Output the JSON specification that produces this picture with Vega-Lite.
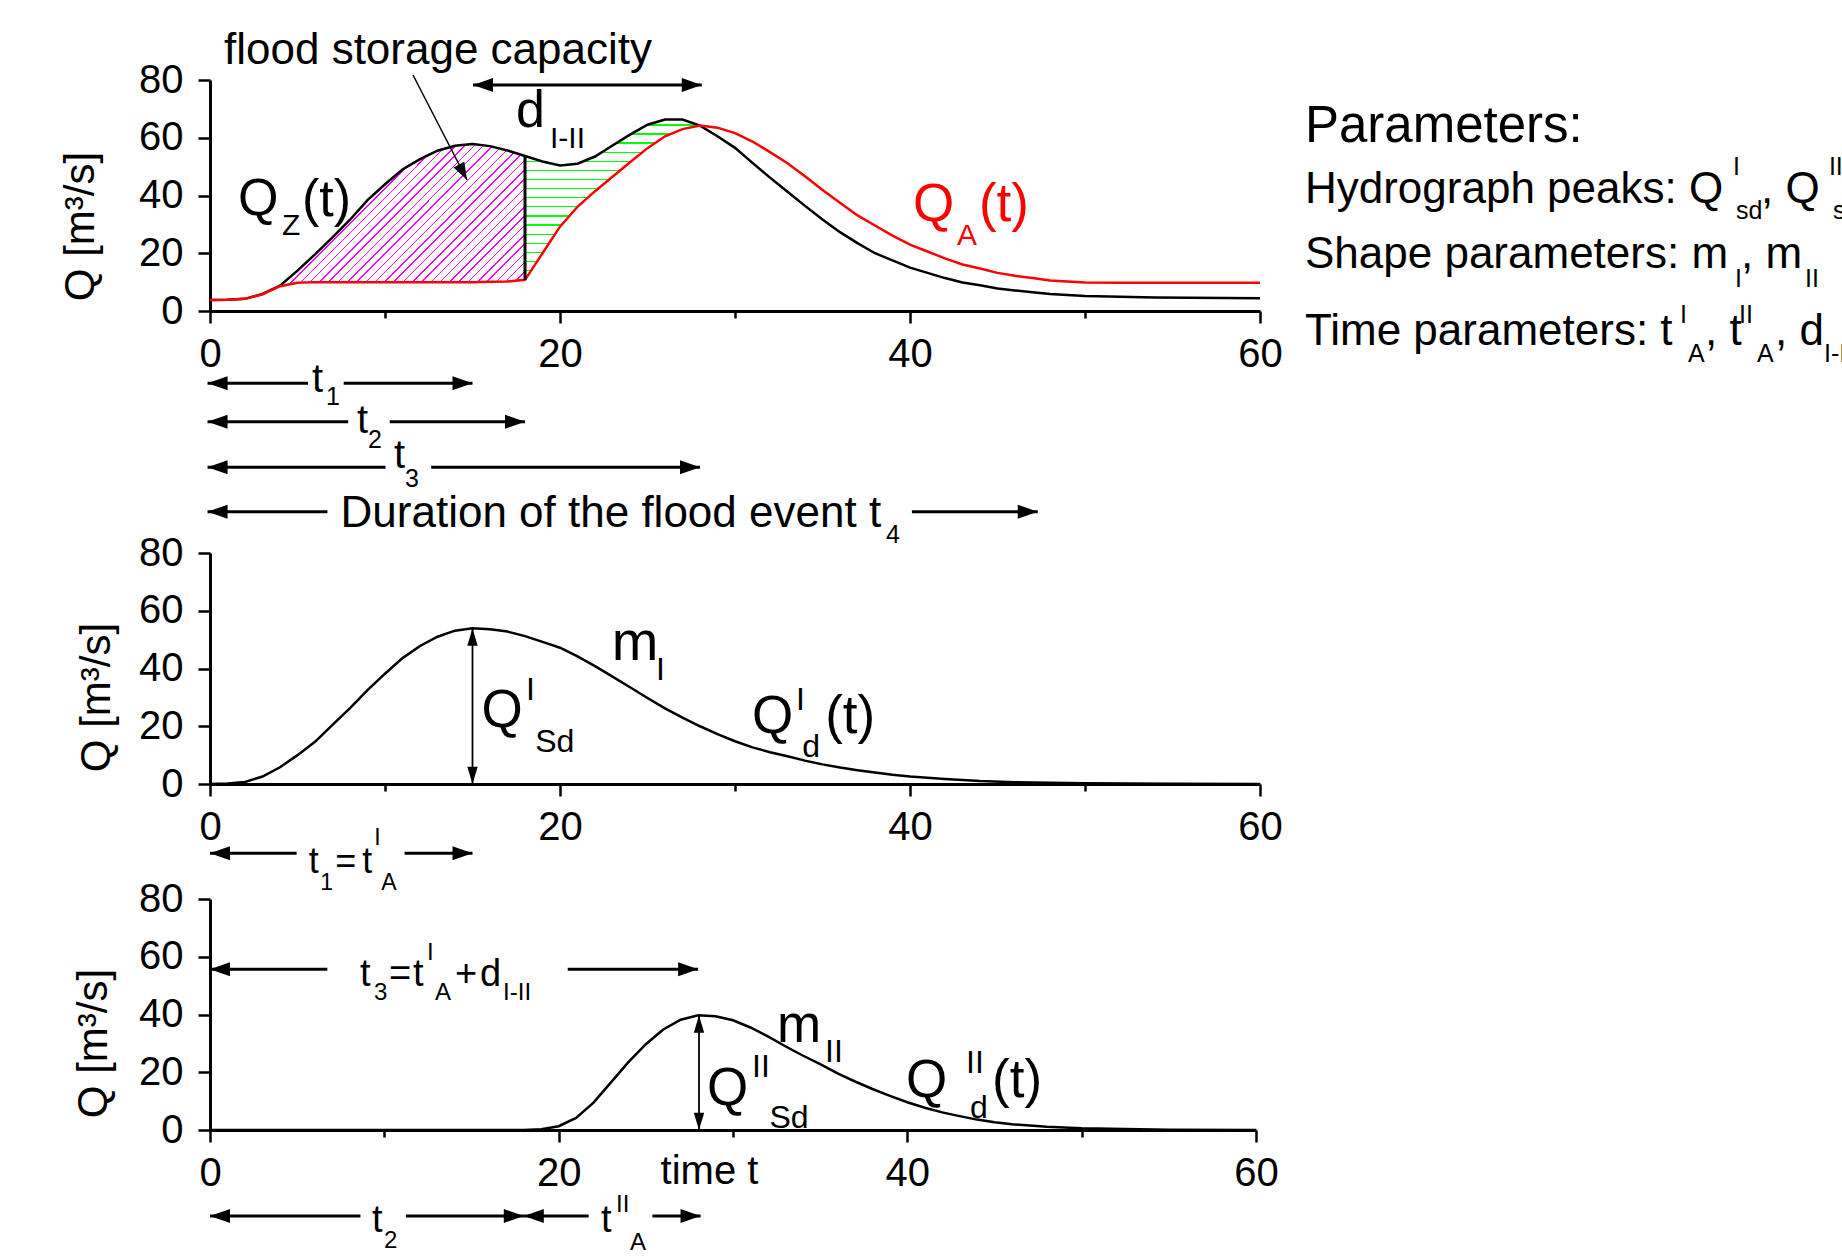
{
"$schema": "https://vega.github.io/schema/vega-lite/v6.json",
"autosize": {"type": "none"},
"padding": {"left": 210, "top": 80, "right": 1632, "bottom": 1177},
"background": "white",
"config": {
  "view": {"stroke": null},
  "font": "Liberation Sans",
  "axis": {"domainColor": "black", "domainWidth": 3, "tickColor": "black", "tickWidth": 2.5, "labelColor": "black", "labelFont": "Liberation Sans", "labelFontSize": 40, "titleFont": "Liberation Sans", "titleFontSize": 42, "titleFontWeight": "normal", "titleColor": "black", "grid": false},
  "text": {"color": "black", "font": "Liberation Sans", "align": "left", "baseline": "alphabetic"},
  "point": {"filled": true, "opacity": 1, "color": "black"}
},
"datasets": {
  "top": [
    {"t":0,"qz":3.8,"qa":3.8},{"t":1,"qz":3.9,"qa":3.9},{"t":2,"qz":4.2,"qa":4.2},{"t":3,"qz":5.9,"qa":5.8},{"t":4,"qz":8.8,"qa":8.6},
    {"t":5,"qz":14,"qa":9.8},{"t":6,"qz":19.6,"qa":10},{"t":7,"qz":25.5,"qa":10},{"t":8,"qz":31.6,"qa":10},{"t":9,"qz":38.4,"qa":10},
    {"t":10,"qz":43.9,"qa":10},{"t":11,"qz":49,"qa":10},{"t":12,"qz":52.6,"qa":10},{"t":13,"qz":55.5,"qa":10},{"t":14,"qz":57.2,"qa":10},
    {"t":15,"qz":57.8,"qa":10},{"t":16,"qz":57.1,"qa":10.1},{"t":17,"qz":55.6,"qa":10.2},{"t":18,"qz":53.7,"qa":10.8},{"t":19,"qz":51.8,"qa":20},
    {"t":20,"qz":50.4,"qa":29.2},{"t":21,"qz":51,"qa":36.1},{"t":22,"qz":53.5,"qa":41.5},{"t":23,"qz":57.3,"qa":46.5},{"t":24,"qz":61.1,"qa":51.5},
    {"t":25,"qz":64.5,"qa":56.4},{"t":26,"qz":66.3,"qa":60.5},{"t":27,"qz":66.3,"qa":63},{"t":28,"qz":64.2,"qa":64.2},{"t":29,"qz":60.5,"qa":63.5},
    {"t":30,"qz":56.5,"qa":61.6},{"t":31,"qz":51.3,"qa":58.7},{"t":32,"qz":46.2,"qa":55},{"t":33,"qz":41.3,"qa":51.2},{"t":34,"qz":36.4,"qa":46.7},
    {"t":35,"qz":31.7,"qa":41.9},{"t":36,"qz":27.3,"qa":37.5},{"t":37,"qz":23.5,"qa":33.1},{"t":38,"qz":20,"qa":29.6},{"t":39,"qz":17.5,"qa":26.1},
    {"t":40,"qz":15,"qa":23},{"t":41,"qz":13.2,"qa":20.6},{"t":42,"qz":11.4,"qa":18.2},{"t":43,"qz":9.9,"qa":16.1},{"t":44,"qz":8.9,"qa":14.7},
    {"t":45,"qz":7.8,"qa":13.2},{"t":46,"qz":7.1,"qa":12.2},{"t":47,"qz":6.5,"qa":11.4},{"t":48,"qz":5.9,"qa":10.6},{"t":50,"qz":5.2,"qa":9.9},
    {"t":52,"qz":4.9,"qa":9.8},{"t":54,"qz":4.7,"qa":9.8},{"t":56,"qz":4.6,"qa":9.8},{"t":58,"qz":4.5,"qa":9.8},{"t":60,"qz":4.4,"qa":9.8}
  ],
  "topLinesThick": [
    {"t":15.03,"t2":28.1,"q":78.27,"q2":78.27},
    {"t":-0.14,"t2":5.6,"q":-25.04,"q2":-25.04},{"t":7.64,"t2":15,"q":-25.04,"q2":-25.04},
    {"t":-0.14,"t2":7.9,"q":-38.34,"q2":-38.34},{"t":10.27,"t2":18,"q":-38.34,"q2":-38.34},
    {"t":-0.14,"t2":10.03,"q":-54.13,"q2":-54.13},{"t":12.64,"t2":28,"q":-54.13,"q2":-54.13},
    {"t":-0.14,"t2":6.71,"q":-69.5,"q2":-69.5},{"t":40.11,"t2":47.3,"q":-69.5,"q2":-69.5},
    {"t":18,"t2":18,"q":10.8,"q2":53.7}
  ],
  "topLinesThin": [{"t":11.6,"t2":14.69,"q":81.73,"q2":45.37}],
  "topHeads": [
    {"t":15.03,"q":78.27,"dir":"left"},{"t":28.1,"q":78.27,"dir":"right"},
    {"t":-0.14,"q":-25.04,"dir":"left"},{"t":15,"q":-25.04,"dir":"right"},
    {"t":-0.14,"q":-38.34,"dir":"left"},{"t":18,"q":-38.34,"dir":"right"},
    {"t":-0.14,"q":-54.13,"dir":"left"},{"t":28,"q":-54.13,"dir":"right"},
    {"t":-0.14,"q":-69.5,"dir":"left"},{"t":47.3,"q":-69.5,"dir":"right"}
  ],
  "topPointer": [{"t":14.69,"q":45.37,"dir":"right"}],
  "topText44": [
    {"t":0.8,"q":85.54,"text":"flood storage capacity"},
    {"t":7.46,"q":-74.7,"text":"Duration of the flood event t"},
    {"t":62.57,"q":37.4,"text":"Hydrograph peaks: Q"},
    {"t":88.63,"q":37.4,"text":", Q"},
    {"t":62.57,"q":14.78,"text":"Shape parameters: m"},
    {"t":87.49,"q":14.78,"text":", m"},
    {"t":62.57,"q":-11.77,"text":"Time parameters: t"},
    {"t":85.43,"q":-11.77,"text":", t"},
    {"t":89.43,"q":-11.77,"text":", d"}
  ],
  "topText49": [{"t":62.57,"q":58.63,"text":"Parameters:"}],
  "topBig": [{"t":1.6,"q":33.25,"text":"Q"},{"t":5.26,"q":32.9,"text":"(t)"},{"t":17.49,"q":63.72,"text":"d"}],
  "topBigRed": [{"t":40.17,"q":31.17,"text":"Q"},{"t":43.94,"q":31.17,"text":"(t)"}],
  "topSub": [{"t":4.11,"q":26.32,"text":"Z"},{"t":19.43,"q":56.45,"text":"I-II"}],
  "topSubRed": [{"t":42.69,"q":22.86,"text":"A"}],
  "topRowT": [{"t":5.83,"q":-28.05,"text":"t"},{"t":8.4,"q":-42.36,"text":"t"},{"t":10.51,"q":-54.5,"text":"t"}],
  "topSmall": [
    {"t":6.63,"q":-32.55,"text":"1"},{"t":9.03,"q":-47.55,"text":"2"},{"t":11.14,"q":-60.85,"text":"3"},{"t":38.63,"q":-80.45,"text":"4"},
    {"t":87.03,"q":47.1,"text":"I"},{"t":87.2,"q":31.75,"text":"sd"},{"t":92.51,"q":47.1,"text":"II"},{"t":92.74,"q":31.75,"text":"sd"},
    {"t":87.14,"q":8.43,"text":"I"},{"t":91.14,"q":8.43,"text":"II"},
    {"t":84.0,"q":-4.27,"text":"I"},{"t":84.46,"q":-17.55,"text":"A"},{"t":87.37,"q":-4.27,"text":"II"},{"t":88.4,"q":-17.55,"text":"A"},{"t":92.23,"q":-17.55,"text":"I-II"}
  ],
  "mid": [
    {"t":0,"q":0},{"t":1,"q":0.2},{"t":2,"q":0.7},{"t":3,"q":2.6},{"t":4,"q":5.8},{"t":5,"q":10},{"t":6,"q":14.6},{"t":7,"q":20.5},{"t":8,"q":26.3},{"t":9,"q":32.5},
    {"t":10,"q":38.2},{"t":11,"q":43.6},{"t":12,"q":47.8},{"t":13,"q":51},{"t":14,"q":53.1},{"t":15,"q":53.9},{"t":16,"q":53.6},{"t":17,"q":52.8},{"t":18,"q":51.2},{"t":19,"q":49.2},
    {"t":20,"q":47.2},{"t":21,"q":44.2},{"t":22,"q":40.8},{"t":23,"q":37.2},{"t":24,"q":33.5},{"t":25,"q":29.8},{"t":26,"q":26.2},{"t":27,"q":23},{"t":28,"q":20},{"t":29,"q":17.3},
    {"t":30,"q":14.8},{"t":31,"q":12.7},{"t":32,"q":11},{"t":33,"q":9.6},{"t":34,"q":8.1},{"t":35,"q":6.8},{"t":36,"q":5.7},{"t":37,"q":4.8},{"t":38,"q":4},{"t":39,"q":3.2},
    {"t":40,"q":2.6},{"t":42,"q":1.7},{"t":44,"q":1},{"t":46,"q":0.6},{"t":48,"q":0.4},{"t":50,"q":0.3},{"t":55,"q":0.1},{"t":60,"q":0}
  ],
  "midLinesThick": [{"t":0,"t2":4.95,"q":-24,"q2":-24},{"t":11.12,"t2":15,"q":-24,"q2":-24}],
  "midLinesThin": [{"t":15,"t2":15,"q":0,"q2":53.9}],
  "midHeadsThick": [{"t":0,"q":-24,"dir":"left"},{"t":15,"q":-24,"dir":"right"}],
  "midHeadsThin": [{"t":15,"q":53.9,"dir":"up"},{"t":15,"q":0,"dir":"down"}],
  "midBig": [{"t":15.51,"q":19.74,"text":"Q"},{"t":30.97,"q":17.55,"text":"Q"},{"t":35.15,"q":17.66,"text":"(t)"}],
  "midM": [{"t":22.96,"q":42.94,"text":"m"}],
  "midSub": [{"t":18.06,"q":29.09,"text":"I"},{"t":18.58,"q":11.08,"text":"Sd"},{"t":25.48,"q":36.02,"text":"I"},{"t":33.49,"q":25.63,"text":"I"},{"t":33.84,"q":9.46,"text":"d"}],
  "midRow": [{"t":5.64,"q":-30.82,"text":"t"},{"t":7.16,"q":-30.82,"text":"="},{"t":8.7,"q":-30.82,"text":"t"}],
  "midRowSub": [{"t":6.3,"q":-36.7,"text":"1"},{"t":9.39,"q":-21.1,"text":"I"},{"t":9.79,"q":-36.7,"text":"A"}],
  "bot": [
    {"t":0,"q":0},{"t":5,"q":0},{"t":10,"q":0},{"t":15,"q":0},{"t":18,"q":0},{"t":19,"q":0.3},{"t":20,"q":1.3},{"t":21,"q":4.2},{"t":22,"q":9.5},{"t":23,"q":16.5},
    {"t":24,"q":23.5},{"t":25,"q":29.7},{"t":26,"q":34.8},{"t":27,"q":38.2},{"t":28,"q":39.7},{"t":29,"q":39.4},{"t":30,"q":38},{"t":31,"q":35.5},{"t":32,"q":32.4},{"t":33,"q":29},
    {"t":34,"q":25.8},{"t":35,"q":22.8},{"t":36,"q":19.6},{"t":37,"q":16.8},{"t":38,"q":14.2},{"t":39,"q":11.8},{"t":40,"q":9.6},{"t":41,"q":7.7},{"t":42,"q":6.1},{"t":43,"q":4.8},
    {"t":44,"q":3.6},{"t":45,"q":2.7},{"t":46,"q":2},{"t":48,"q":1.1},{"t":50,"q":0.6},{"t":55,"q":0.1},{"t":60,"q":0}
  ],
  "botLinesThick": [
    {"t":0,"t2":6.73,"q":55.7,"q2":55.7},{"t":20.52,"t2":28,"q":55.7,"q2":55.7},
    {"t":0,"t2":8.63,"q":-29.78,"q2":-29.78},{"t":11.24,"t2":18,"q":-29.78,"q2":-29.78},
    {"t":18,"t2":21.72,"q":-29.78,"q2":-29.78},{"t":25.38,"t2":28.14,"q":-29.78,"q2":-29.78}
  ],
  "botLinesThin": [{"t":28.05,"t2":28.05,"q":0,"q2":39.7}],
  "botHeadsThick": [
    {"t":0,"q":55.7,"dir":"left"},{"t":28,"q":55.7,"dir":"right"},
    {"t":0,"q":-29.78,"dir":"left"},{"t":18,"q":-29.78,"dir":"right"},
    {"t":18,"q":-29.78,"dir":"left"},{"t":28.14,"q":-29.78,"dir":"right"}
  ],
  "botHeadsThin": [{"t":28.05,"q":39.7,"dir":"up"},{"t":28.05,"q":0,"dir":"down"}],
  "botBig": [{"t":28.51,"q":8.66,"text":"Q"},{"t":32.52,"q":30.48,"text":"m"},{"t":39.93,"q":11.55,"text":"Q"},{"t":44.86,"q":11.43,"text":"(t)"}],
  "botSub": [{"t":31.09,"q":18.35,"text":"II"},{"t":32.09,"q":0.69,"text":"Sd"},{"t":35.28,"q":23.55,"text":"II"},{"t":43.37,"q":19.62,"text":"II"},{"t":43.6,"q":4.04,"text":"d"}],
  "botRow": [{"t":8.6,"q":49.87,"text":"t"},{"t":10.27,"q":49.87,"text":"="},{"t":11.64,"q":49.87,"text":"t"},{"t":14.05,"q":49.87,"text":"+"},{"t":15.49,"q":49.87,"text":"d"},{"t":9.29,"q":-35.33,"text":"t"},{"t":22.43,"q":-35.33,"text":"t"}],
  "botRowSub": [{"t":9.41,"q":45.02,"text":"3"},{"t":12.45,"q":58.87,"text":"I"},{"t":12.91,"q":45.02,"text":"A"},{"t":16.81,"q":45.02,"text":"I-II"},{"t":9.98,"q":-40.87,"text":"2"},{"t":23.29,"q":-28.28,"text":"II"},{"t":24.09,"q":-41.56,"text":"A"}]
},
"resolve": {"scale": {"x": "independent", "y": "independent"}},
"bounds": "flush",
"spacing": 115,
"vconcat": [
  {
    "width": 1050, "height": 231,
    "layer": [
      {"data": {"name": "top"}, "transform": [{"filter": "datum.t >= 4 && datum.t <= 18"}],
       "mark": {"type": "area", "fill": {"gradient": "linear", "x1": 0, "y1": 0, "x2": 1.1823, "y2": 0.6853, "stops": [
        {"offset":0,"color":"#ff00ff"},{"offset":0.004,"color":"#ff00ff"},{"offset":0.004,"color":"#ffffff"},{"offset":0.024,"color":"#ffffff"},
        {"offset":0.024,"color":"#ff00ff"},{"offset":0.028,"color":"#ff00ff"},{"offset":0.028,"color":"#ffffff"},{"offset":0.048,"color":"#ffffff"},
        {"offset":0.048,"color":"#ff00ff"},{"offset":0.052,"color":"#ff00ff"},{"offset":0.052,"color":"#ffffff"},{"offset":0.072,"color":"#ffffff"},
        {"offset":0.072,"color":"#ff00ff"},{"offset":0.076,"color":"#ff00ff"},{"offset":0.076,"color":"#ffffff"},{"offset":0.096,"color":"#ffffff"},
        {"offset":0.096,"color":"#ff00ff"},{"offset":0.1,"color":"#ff00ff"},{"offset":0.1,"color":"#ffffff"},{"offset":0.12,"color":"#ffffff"},
        {"offset":0.12,"color":"#ff00ff"},{"offset":0.124,"color":"#ff00ff"},{"offset":0.124,"color":"#ffffff"},{"offset":0.144,"color":"#ffffff"},
        {"offset":0.144,"color":"#ff00ff"},{"offset":0.148,"color":"#ff00ff"},{"offset":0.148,"color":"#ffffff"},{"offset":0.168,"color":"#ffffff"},
        {"offset":0.168,"color":"#ff00ff"},{"offset":0.172,"color":"#ff00ff"},{"offset":0.172,"color":"#ffffff"},{"offset":0.192,"color":"#ffffff"},
        {"offset":0.192,"color":"#ff00ff"},{"offset":0.196,"color":"#ff00ff"},{"offset":0.196,"color":"#ffffff"},{"offset":0.216,"color":"#ffffff"},
        {"offset":0.216,"color":"#ff00ff"},{"offset":0.22,"color":"#ff00ff"},{"offset":0.22,"color":"#ffffff"},{"offset":0.24,"color":"#ffffff"},
        {"offset":0.24,"color":"#ff00ff"},{"offset":0.244,"color":"#ff00ff"},{"offset":0.244,"color":"#ffffff"},{"offset":0.264,"color":"#ffffff"},
        {"offset":0.264,"color":"#ff00ff"},{"offset":0.268,"color":"#ff00ff"},{"offset":0.268,"color":"#ffffff"},{"offset":0.288,"color":"#ffffff"},
        {"offset":0.288,"color":"#ff00ff"},{"offset":0.292,"color":"#ff00ff"},{"offset":0.292,"color":"#ffffff"},{"offset":0.312,"color":"#ffffff"},
        {"offset":0.312,"color":"#ff00ff"},{"offset":0.316,"color":"#ff00ff"},{"offset":0.316,"color":"#ffffff"},{"offset":0.336,"color":"#ffffff"},
        {"offset":0.336,"color":"#ff00ff"},{"offset":0.34,"color":"#ff00ff"},{"offset":0.34,"color":"#ffffff"},{"offset":0.36,"color":"#ffffff"},
        {"offset":0.36,"color":"#ff00ff"},{"offset":0.364,"color":"#ff00ff"},{"offset":0.364,"color":"#ffffff"},{"offset":0.384,"color":"#ffffff"},
        {"offset":0.384,"color":"#ff00ff"},{"offset":0.388,"color":"#ff00ff"},{"offset":0.388,"color":"#ffffff"},{"offset":0.408,"color":"#ffffff"},
        {"offset":0.408,"color":"#ff00ff"},{"offset":0.412,"color":"#ff00ff"},{"offset":0.412,"color":"#ffffff"},{"offset":0.432,"color":"#ffffff"},
        {"offset":0.432,"color":"#ff00ff"},{"offset":0.436,"color":"#ff00ff"},{"offset":0.436,"color":"#ffffff"},{"offset":0.456,"color":"#ffffff"},
        {"offset":0.456,"color":"#ff00ff"},{"offset":0.46,"color":"#ff00ff"},{"offset":0.46,"color":"#ffffff"},{"offset":0.48,"color":"#ffffff"},
        {"offset":0.48,"color":"#ff00ff"},{"offset":0.484,"color":"#ff00ff"},{"offset":0.484,"color":"#ffffff"},{"offset":0.504,"color":"#ffffff"},
        {"offset":0.504,"color":"#ff00ff"},{"offset":0.508,"color":"#ff00ff"},{"offset":0.508,"color":"#ffffff"},{"offset":0.528,"color":"#ffffff"},
        {"offset":0.528,"color":"#ff00ff"},{"offset":0.532,"color":"#ff00ff"},{"offset":0.532,"color":"#ffffff"},{"offset":0.552,"color":"#ffffff"},
        {"offset":0.552,"color":"#ff00ff"},{"offset":0.556,"color":"#ff00ff"},{"offset":0.556,"color":"#ffffff"},{"offset":0.576,"color":"#ffffff"},
        {"offset":0.576,"color":"#ff00ff"},{"offset":0.58,"color":"#ff00ff"},{"offset":0.58,"color":"#ffffff"},{"offset":0.6,"color":"#ffffff"},
        {"offset":0.6,"color":"#ff00ff"},{"offset":0.604,"color":"#ff00ff"},{"offset":0.604,"color":"#ffffff"},{"offset":0.624,"color":"#ffffff"},
        {"offset":0.624,"color":"#ff00ff"},{"offset":0.628,"color":"#ff00ff"},{"offset":0.628,"color":"#ffffff"},{"offset":0.648,"color":"#ffffff"},
        {"offset":0.648,"color":"#ff00ff"},{"offset":0.652,"color":"#ff00ff"},{"offset":0.652,"color":"#ffffff"},{"offset":0.672,"color":"#ffffff"},
        {"offset":0.672,"color":"#ff00ff"},{"offset":0.676,"color":"#ff00ff"},{"offset":0.676,"color":"#ffffff"},{"offset":0.696,"color":"#ffffff"},
        {"offset":0.696,"color":"#ff00ff"},{"offset":0.7,"color":"#ff00ff"},{"offset":0.7,"color":"#ffffff"},{"offset":0.72,"color":"#ffffff"},
        {"offset":0.72,"color":"#ff00ff"},{"offset":0.724,"color":"#ff00ff"},{"offset":0.724,"color":"#ffffff"},{"offset":0.744,"color":"#ffffff"},
        {"offset":0.744,"color":"#ff00ff"},{"offset":0.748,"color":"#ff00ff"},{"offset":0.748,"color":"#ffffff"},{"offset":0.768,"color":"#ffffff"},
        {"offset":0.768,"color":"#ff00ff"},{"offset":0.772,"color":"#ff00ff"},{"offset":0.772,"color":"#ffffff"},{"offset":0.792,"color":"#ffffff"},
        {"offset":0.792,"color":"#ff00ff"},{"offset":0.796,"color":"#ff00ff"},{"offset":0.796,"color":"#ffffff"},{"offset":0.816,"color":"#ffffff"},
        {"offset":0.816,"color":"#ff00ff"},{"offset":0.82,"color":"#ff00ff"},{"offset":0.82,"color":"#ffffff"},{"offset":0.84,"color":"#ffffff"},
        {"offset":0.84,"color":"#ff00ff"},{"offset":0.844,"color":"#ff00ff"},{"offset":0.844,"color":"#ffffff"},{"offset":0.864,"color":"#ffffff"},
        {"offset":0.864,"color":"#ff00ff"},{"offset":0.868,"color":"#ff00ff"},{"offset":0.868,"color":"#ffffff"},{"offset":0.888,"color":"#ffffff"},
        {"offset":0.888,"color":"#ff00ff"},{"offset":0.892,"color":"#ff00ff"},{"offset":0.892,"color":"#ffffff"},{"offset":0.912,"color":"#ffffff"},
        {"offset":0.912,"color":"#ff00ff"},{"offset":0.916,"color":"#ff00ff"},{"offset":0.916,"color":"#ffffff"},{"offset":0.936,"color":"#ffffff"},
        {"offset":0.936,"color":"#ff00ff"},{"offset":0.94,"color":"#ff00ff"},{"offset":0.94,"color":"#ffffff"},{"offset":0.96,"color":"#ffffff"},
        {"offset":0.96,"color":"#ff00ff"},{"offset":0.964,"color":"#ff00ff"},{"offset":0.964,"color":"#ffffff"},{"offset":0.984,"color":"#ffffff"},
        {"offset":0.984,"color":"#ff00ff"},{"offset":0.988,"color":"#ff00ff"},{"offset":0.988,"color":"#ffffff"},{"offset":1,"color":"#ffffff"}
       ]}},
       "encoding": {
         "x": {"field": "t", "type": "quantitative", "scale": {"domain": [0, 60], "nice": false, "zero": false},
               "axis": {"values": [0,10,20,30,40,50,60], "labelExpr": "datum.value % 20 === 0 ? datum.label : ''", "tickSize": {"condition": {"test": "datum.value % 20 !== 0", "value": 7}, "value": 12}, "labelPadding": 11, "labelFlush": false, "labelOverlap": false, "title": null}},
         "y": {"field": "qz", "type": "quantitative", "scale": {"domain": [0, 80], "nice": false, "zero": false},
               "axis": {"values": [0,10,20,30,40,50,60,70,80], "labelExpr": "datum.value % 20 === 0 ? datum.label : ''", "tickSize": {"condition": {"test": "datum.value % 20 !== 0", "value": 7}, "value": 12}, "labelPadding": 15, "labelOverlap": false, "title": "Q [m³/s]", "titleX": -130, "titleY": 146, "titleAngle": 270, "titleAlign": "center", "titleBaseline": "middle"}},
         "y2": {"field": "qa"}
       }},
      {"data": {"name": "top"}, "transform": [{"filter": "datum.t >= 18 && datum.t <= 28"}],
       "mark": {"type": "area", "fill": {"gradient": "linear", "x1": 0, "y1": 0, "x2": 0, "y2": 1, "stops": [
        {"offset":0,"color":"#ffffff"},{"offset":0.0294,"color":"#ffffff"},
        {"offset":0.0294,"color":"#00ff00"},{"offset":0.0374,"color":"#00ff00"},{"offset":0.0374,"color":"#ffffff"},{"offset":0.0862,"color":"#ffffff"},
        {"offset":0.0862,"color":"#00ff00"},{"offset":0.0942,"color":"#00ff00"},{"offset":0.0942,"color":"#ffffff"},{"offset":0.143,"color":"#ffffff"},
        {"offset":0.143,"color":"#00ff00"},{"offset":0.151,"color":"#00ff00"},{"offset":0.151,"color":"#ffffff"},{"offset":0.1998,"color":"#ffffff"},
        {"offset":0.1998,"color":"#00ff00"},{"offset":0.2078,"color":"#00ff00"},{"offset":0.2078,"color":"#ffffff"},{"offset":0.2566,"color":"#ffffff"},
        {"offset":0.2566,"color":"#00ff00"},{"offset":0.2646,"color":"#00ff00"},{"offset":0.2646,"color":"#ffffff"},{"offset":0.3134,"color":"#ffffff"},
        {"offset":0.3134,"color":"#00ff00"},{"offset":0.3214,"color":"#00ff00"},{"offset":0.3214,"color":"#ffffff"},{"offset":0.3702,"color":"#ffffff"},
        {"offset":0.3702,"color":"#00ff00"},{"offset":0.3782,"color":"#00ff00"},{"offset":0.3782,"color":"#ffffff"},{"offset":0.427,"color":"#ffffff"},
        {"offset":0.427,"color":"#00ff00"},{"offset":0.435,"color":"#00ff00"},{"offset":0.435,"color":"#ffffff"},{"offset":0.4838,"color":"#ffffff"},
        {"offset":0.4838,"color":"#00ff00"},{"offset":0.4918,"color":"#00ff00"},{"offset":0.4918,"color":"#ffffff"},{"offset":0.5406,"color":"#ffffff"},
        {"offset":0.5406,"color":"#00ff00"},{"offset":0.5486,"color":"#00ff00"},{"offset":0.5486,"color":"#ffffff"},{"offset":0.5974,"color":"#ffffff"},
        {"offset":0.5974,"color":"#00ff00"},{"offset":0.6054,"color":"#00ff00"},{"offset":0.6054,"color":"#ffffff"},{"offset":0.6542,"color":"#ffffff"},
        {"offset":0.6542,"color":"#00ff00"},{"offset":0.6622,"color":"#00ff00"},{"offset":0.6622,"color":"#ffffff"},{"offset":0.711,"color":"#ffffff"},
        {"offset":0.711,"color":"#00ff00"},{"offset":0.719,"color":"#00ff00"},{"offset":0.719,"color":"#ffffff"},{"offset":0.7678,"color":"#ffffff"},
        {"offset":0.7678,"color":"#00ff00"},{"offset":0.7758,"color":"#00ff00"},{"offset":0.7758,"color":"#ffffff"},{"offset":0.8246,"color":"#ffffff"},
        {"offset":0.8246,"color":"#00ff00"},{"offset":0.8326,"color":"#00ff00"},{"offset":0.8326,"color":"#ffffff"},{"offset":0.8814,"color":"#ffffff"},
        {"offset":0.8814,"color":"#00ff00"},{"offset":0.8894,"color":"#00ff00"},{"offset":0.8894,"color":"#ffffff"},{"offset":0.9382,"color":"#ffffff"},
        {"offset":0.9382,"color":"#00ff00"},{"offset":0.9462,"color":"#00ff00"},{"offset":0.9462,"color":"#ffffff"},{"offset":1,"color":"#ffffff"}
       ]}},
       "encoding": {
         "x": {"field": "t", "type": "quantitative", "scale": {"domain": [0, 60]}},
         "y": {"field": "qz", "type": "quantitative", "scale": {"domain": [0, 80]}},
         "y2": {"field": "qa"}
       }},
      {"data": {"name": "top"}, "mark": {"type": "line", "color": "black", "strokeWidth": 2.5},
       "encoding": {"x": {"field": "t", "type": "quantitative", "scale": {"domain": [0, 60]}}, "y": {"field": "qz", "type": "quantitative", "scale": {"domain": [0, 80]}}}},
      {"data": {"name": "top"}, "mark": {"type": "line", "color": "#ff0000", "strokeWidth": 2.5},
       "encoding": {"x": {"field": "t", "type": "quantitative", "scale": {"domain": [0, 60]}}, "y": {"field": "qa", "type": "quantitative", "scale": {"domain": [0, 80]}}}},
      {"data": {"name": "topLinesThick"}, "mark": {"type": "rule", "color": "black", "strokeWidth": 3},
       "encoding": {"x": {"field": "t", "type": "quantitative", "scale": {"domain": [0, 60]}}, "x2": {"field": "t2"}, "y": {"field": "q", "type": "quantitative", "scale": {"domain": [0, 80]}}, "y2": {"field": "q2"}}},
      {"data": {"name": "topLinesThin"}, "mark": {"type": "rule", "color": "black", "strokeWidth": 1.5},
       "encoding": {"x": {"field": "t", "type": "quantitative", "scale": {"domain": [0, 60]}}, "x2": {"field": "t2"}, "y": {"field": "q", "type": "quantitative", "scale": {"domain": [0, 80]}}, "y2": {"field": "q2"}}},
      {"data": {"name": "topHeads"}, "mark": {"type": "point", "filled": true, "opacity": 1, "color": "black", "size": 1600},
       "encoding": {"x": {"field": "t", "type": "quantitative", "scale": {"domain": [0, 60]}}, "y": {"field": "q", "type": "quantitative", "scale": {"domain": [0, 80]}},
         "shape": {"field": "dir", "type": "nominal", "scale": {"domain": ["left", "right", "up", "down"], "range": ["M0,0L1,-0.35L1,0.35Z", "M0,0L-1,-0.35L-1,0.35Z", "M0,0L-0.3,1L0.3,1Z", "M0,0L-0.3,-1L0.3,-1Z"]}, "legend": null}}},
      {"data": {"name": "topPointer"}, "mark": {"type": "point", "filled": true, "opacity": 1, "color": "black", "size": 1200, "angle": 62},
       "encoding": {"x": {"field": "t", "type": "quantitative", "scale": {"domain": [0, 60]}}, "y": {"field": "q", "type": "quantitative", "scale": {"domain": [0, 80]}},
         "shape": {"field": "dir", "type": "nominal", "scale": {"domain": ["left", "right", "up", "down"], "range": ["M0,0L1,-0.35L1,0.35Z", "M0,0L-1,-0.35L-1,0.35Z", "M0,0L-0.3,1L0.3,1Z", "M0,0L-0.3,-1L0.3,-1Z"]}, "legend": null}}},
      {"data": {"name": "topText44"}, "mark": {"type": "text", "fontSize": 44},
       "encoding": {"x": {"field": "t", "type": "quantitative", "scale": {"domain": [0, 60]}}, "y": {"field": "q", "type": "quantitative", "scale": {"domain": [0, 80]}}, "text": {"field": "text"}}},
      {"data": {"name": "topText49"}, "mark": {"type": "text", "fontSize": 51},
       "encoding": {"x": {"field": "t", "type": "quantitative", "scale": {"domain": [0, 60]}}, "y": {"field": "q", "type": "quantitative", "scale": {"domain": [0, 80]}}, "text": {"field": "text"}}},
      {"data": {"name": "topBig"}, "mark": {"type": "text", "fontSize": 52},
       "encoding": {"x": {"field": "t", "type": "quantitative", "scale": {"domain": [0, 60]}}, "y": {"field": "q", "type": "quantitative", "scale": {"domain": [0, 80]}}, "text": {"field": "text"}}},
      {"data": {"name": "topBigRed"}, "mark": {"type": "text", "fontSize": 53, "color": "#ff0000"},
       "encoding": {"x": {"field": "t", "type": "quantitative", "scale": {"domain": [0, 60]}}, "y": {"field": "q", "type": "quantitative", "scale": {"domain": [0, 80]}}, "text": {"field": "text"}}},
      {"data": {"name": "topSub"}, "mark": {"type": "text", "fontSize": 30},
       "encoding": {"x": {"field": "t", "type": "quantitative", "scale": {"domain": [0, 60]}}, "y": {"field": "q", "type": "quantitative", "scale": {"domain": [0, 80]}}, "text": {"field": "text"}}},
      {"data": {"name": "topSubRed"}, "mark": {"type": "text", "fontSize": 30, "color": "#ff0000"},
       "encoding": {"x": {"field": "t", "type": "quantitative", "scale": {"domain": [0, 60]}}, "y": {"field": "q", "type": "quantitative", "scale": {"domain": [0, 80]}}, "text": {"field": "text"}}},
      {"data": {"name": "topRowT"}, "mark": {"type": "text", "fontSize": 40},
       "encoding": {"x": {"field": "t", "type": "quantitative", "scale": {"domain": [0, 60]}}, "y": {"field": "q", "type": "quantitative", "scale": {"domain": [0, 80]}}, "text": {"field": "text"}}},
      {"data": {"name": "topSmall"}, "mark": {"type": "text", "fontSize": 25},
       "encoding": {"x": {"field": "t", "type": "quantitative", "scale": {"domain": [0, 60]}}, "y": {"field": "q", "type": "quantitative", "scale": {"domain": [0, 80]}}, "text": {"field": "text"}}}
    ]
  },
  {
    "width": 1050, "height": 12,
    "data": {"values": [{"a": 1}]},
    "mark": {"type": "text", "text": ""}
  },
  {
    "width": 1050, "height": 231,
    "layer": [
      {"data": {"name": "mid"}, "mark": {"type": "line", "color": "black", "strokeWidth": 2.5},
       "encoding": {
         "x": {"field": "t", "type": "quantitative", "scale": {"domain": [0, 60], "nice": false, "zero": false},
               "axis": {"values": [0,10,20,30,40,50,60], "labelExpr": "datum.value % 20 === 0 ? datum.label : ''", "tickSize": {"condition": {"test": "datum.value % 20 !== 0", "value": 7}, "value": 12}, "labelPadding": 11, "labelFlush": false, "labelOverlap": false, "title": null}},
         "y": {"field": "q", "type": "quantitative", "scale": {"domain": [0, 80], "nice": false, "zero": false},
               "axis": {"values": [0,10,20,30,40,50,60,70,80], "labelExpr": "datum.value % 20 === 0 ? datum.label : ''", "tickSize": {"condition": {"test": "datum.value % 20 !== 0", "value": 7}, "value": 12}, "labelPadding": 15, "labelOverlap": false, "title": "Q [m³/s]", "titleX": -114, "titleY": 144, "titleAngle": 270, "titleAlign": "center", "titleBaseline": "middle"}}
       }},
      {"data": {"name": "midLinesThick"}, "mark": {"type": "rule", "color": "black", "strokeWidth": 3},
       "encoding": {"x": {"field": "t", "type": "quantitative", "scale": {"domain": [0, 60]}}, "x2": {"field": "t2"}, "y": {"field": "q", "type": "quantitative", "scale": {"domain": [0, 80]}}, "y2": {"field": "q2"}}},
      {"data": {"name": "midLinesThin"}, "mark": {"type": "rule", "color": "black", "strokeWidth": 1.8},
       "encoding": {"x": {"field": "t", "type": "quantitative", "scale": {"domain": [0, 60]}}, "x2": {"field": "t2"}, "y": {"field": "q", "type": "quantitative", "scale": {"domain": [0, 80]}}, "y2": {"field": "q2"}}},
      {"data": {"name": "midHeadsThick"}, "mark": {"type": "point", "filled": true, "opacity": 1, "color": "black", "size": 1600},
       "encoding": {"x": {"field": "t", "type": "quantitative", "scale": {"domain": [0, 60]}}, "y": {"field": "q", "type": "quantitative", "scale": {"domain": [0, 80]}},
         "shape": {"field": "dir", "type": "nominal", "scale": {"domain": ["left", "right", "up", "down"], "range": ["M0,0L1,-0.35L1,0.35Z", "M0,0L-1,-0.35L-1,0.35Z", "M0,0L-0.3,1L0.3,1Z", "M0,0L-0.3,-1L0.3,-1Z"]}, "legend": null}}},
      {"data": {"name": "midHeadsThin"}, "mark": {"type": "point", "filled": true, "opacity": 1, "color": "black", "size": 1200},
       "encoding": {"x": {"field": "t", "type": "quantitative", "scale": {"domain": [0, 60]}}, "y": {"field": "q", "type": "quantitative", "scale": {"domain": [0, 80]}},
         "shape": {"field": "dir", "type": "nominal", "scale": {"domain": ["left", "right", "up", "down"], "range": ["M0,0L1,-0.35L1,0.35Z", "M0,0L-1,-0.35L-1,0.35Z", "M0,0L-0.3,1L0.3,1Z", "M0,0L-0.3,-1L0.3,-1Z"]}, "legend": null}}},
      {"data": {"name": "midBig"}, "mark": {"type": "text", "fontSize": 53},
       "encoding": {"x": {"field": "t", "type": "quantitative", "scale": {"domain": [0, 60]}}, "y": {"field": "q", "type": "quantitative", "scale": {"domain": [0, 80]}}, "text": {"field": "text"}}},
      {"data": {"name": "midM"}, "mark": {"type": "text", "fontSize": 56},
       "encoding": {"x": {"field": "t", "type": "quantitative", "scale": {"domain": [0, 60]}}, "y": {"field": "q", "type": "quantitative", "scale": {"domain": [0, 80]}}, "text": {"field": "text"}}},
      {"data": {"name": "midSub"}, "mark": {"type": "text", "fontSize": 32},
       "encoding": {"x": {"field": "t", "type": "quantitative", "scale": {"domain": [0, 60]}}, "y": {"field": "q", "type": "quantitative", "scale": {"domain": [0, 80]}}, "text": {"field": "text"}}},
      {"data": {"name": "midRow"}, "mark": {"type": "text", "fontSize": 36},
       "encoding": {"x": {"field": "t", "type": "quantitative", "scale": {"domain": [0, 60]}}, "y": {"field": "q", "type": "quantitative", "scale": {"domain": [0, 80]}}, "text": {"field": "text"}}},
      {"data": {"name": "midRowSub"}, "mark": {"type": "text", "fontSize": 23},
       "encoding": {"x": {"field": "t", "type": "quantitative", "scale": {"domain": [0, 60]}}, "y": {"field": "q", "type": "quantitative", "scale": {"domain": [0, 80]}}, "text": {"field": "text"}}}
    ]
  },
  {
    "width": 1046, "height": 231,
    "layer": [
      {"data": {"name": "bot"}, "mark": {"type": "line", "color": "black", "strokeWidth": 2.5},
       "encoding": {
         "x": {"field": "t", "type": "quantitative", "scale": {"domain": [0, 60], "nice": false, "zero": false},
               "axis": {"values": [0,10,20,30,40,50,60], "labelExpr": "datum.value % 20 === 0 ? datum.label : ''", "tickSize": {"condition": {"test": "datum.value % 20 !== 0", "value": 7}, "value": 12}, "labelPadding": 11, "labelFlush": false, "labelOverlap": false, "title": "time t", "titleFontSize": 40, "titleX": 499, "titleY": 53, "titleAlign": "center", "titleBaseline": "alphabetic"}},
         "y": {"field": "q", "type": "quantitative", "scale": {"domain": [0, 80], "nice": false, "zero": false},
               "axis": {"values": [0,10,20,30,40,50,60,70,80], "labelExpr": "datum.value % 20 === 0 ? datum.label : ''", "tickSize": {"condition": {"test": "datum.value % 20 !== 0", "value": 7}, "value": 12}, "labelPadding": 15, "labelOverlap": false, "title": "Q [m³/s]", "titleX": -117, "titleY": 144, "titleAngle": 270, "titleAlign": "center", "titleBaseline": "middle"}}
       }},
      {"data": {"name": "botLinesThick"}, "mark": {"type": "rule", "color": "black", "strokeWidth": 3},
       "encoding": {"x": {"field": "t", "type": "quantitative", "scale": {"domain": [0, 60]}}, "x2": {"field": "t2"}, "y": {"field": "q", "type": "quantitative", "scale": {"domain": [0, 80]}}, "y2": {"field": "q2"}}},
      {"data": {"name": "botLinesThin"}, "mark": {"type": "rule", "color": "black", "strokeWidth": 1.8},
       "encoding": {"x": {"field": "t", "type": "quantitative", "scale": {"domain": [0, 60]}}, "x2": {"field": "t2"}, "y": {"field": "q", "type": "quantitative", "scale": {"domain": [0, 80]}}, "y2": {"field": "q2"}}},
      {"data": {"name": "botHeadsThick"}, "mark": {"type": "point", "filled": true, "opacity": 1, "color": "black", "size": 1600},
       "encoding": {"x": {"field": "t", "type": "quantitative", "scale": {"domain": [0, 60]}}, "y": {"field": "q", "type": "quantitative", "scale": {"domain": [0, 80]}},
         "shape": {"field": "dir", "type": "nominal", "scale": {"domain": ["left", "right", "up", "down"], "range": ["M0,0L1,-0.35L1,0.35Z", "M0,0L-1,-0.35L-1,0.35Z", "M0,0L-0.3,1L0.3,1Z", "M0,0L-0.3,-1L0.3,-1Z"]}, "legend": null}}},
      {"data": {"name": "botHeadsThin"}, "mark": {"type": "point", "filled": true, "opacity": 1, "color": "black", "size": 1200},
       "encoding": {"x": {"field": "t", "type": "quantitative", "scale": {"domain": [0, 60]}}, "y": {"field": "q", "type": "quantitative", "scale": {"domain": [0, 80]}},
         "shape": {"field": "dir", "type": "nominal", "scale": {"domain": ["left", "right", "up", "down"], "range": ["M0,0L1,-0.35L1,0.35Z", "M0,0L-1,-0.35L-1,0.35Z", "M0,0L-0.3,1L0.3,1Z", "M0,0L-0.3,-1L0.3,-1Z"]}, "legend": null}}},
      {"data": {"name": "botBig"}, "mark": {"type": "text", "fontSize": 53},
       "encoding": {"x": {"field": "t", "type": "quantitative", "scale": {"domain": [0, 60]}}, "y": {"field": "q", "type": "quantitative", "scale": {"domain": [0, 80]}}, "text": {"field": "text"}}},
      {"data": {"name": "botSub"}, "mark": {"type": "text", "fontSize": 32},
       "encoding": {"x": {"field": "t", "type": "quantitative", "scale": {"domain": [0, 60]}}, "y": {"field": "q", "type": "quantitative", "scale": {"domain": [0, 80]}}, "text": {"field": "text"}}},
      {"data": {"name": "botRow"}, "mark": {"type": "text", "fontSize": 38},
       "encoding": {"x": {"field": "t", "type": "quantitative", "scale": {"domain": [0, 60]}}, "y": {"field": "q", "type": "quantitative", "scale": {"domain": [0, 80]}}, "text": {"field": "text"}}},
      {"data": {"name": "botRowSub"}, "mark": {"type": "text", "fontSize": 24},
       "encoding": {"x": {"field": "t", "type": "quantitative", "scale": {"domain": [0, 60]}}, "y": {"field": "q", "type": "quantitative", "scale": {"domain": [0, 80]}}, "text": {"field": "text"}}}
    ]
  }
]
}
